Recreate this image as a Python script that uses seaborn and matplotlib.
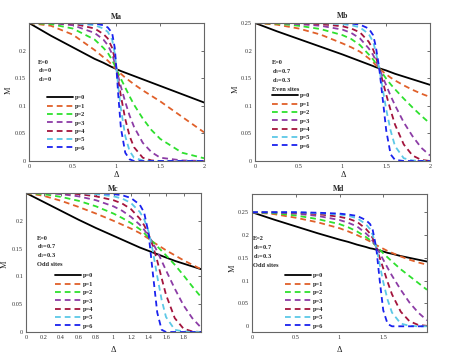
import matplotlib
matplotlib.use("Agg")
import matplotlib.pyplot as plt
import numpy as np
import pandas as pd
import seaborn as sns

# ---- data ----
P_LABELS = ["p=0", "p=1", "p=2", "p=3", "p=4", "p=5", "p=6"]

# panel Ma
ma_x = [0, 0.25, 0.5, 0.75, 0.85, 0.9, 0.95, 0.98, 1.0, 1.02, 1.05, 1.1, 1.15, 1.2, 1.3, 1.4, 1.5, 1.75, 2.0]
ma_p0 = [0.25, 0.227, 0.206, 0.185, 0.178, 0.174, 0.170, 0.168, 0.166, 0.165, 0.163, 0.160, 0.157, 0.154, 0.148, 0.142, 0.136, 0.121, 0.106]
ma_p1 = [0.25, 0.245, 0.229, 0.201, 0.188, 0.182, 0.174, 0.169, 0.166, 0.163, 0.158, 0.151, 0.145, 0.139, 0.128, 0.118, 0.108, 0.080, 0.052]
ma_p2 = [0.25, 0.248, 0.240, 0.220, 0.205, 0.196, 0.183, 0.173, 0.166, 0.159, 0.149, 0.133, 0.117, 0.102, 0.077, 0.056, 0.040, 0.015, 0.005]
ma_p3 = [0.25, 0.25, 0.246, 0.232, 0.220, 0.210, 0.194, 0.178, 0.166, 0.153, 0.135, 0.107, 0.082, 0.062, 0.033, 0.016, 0.006, 0.001, 0.0]
ma_p4 = [0.25, 0.25, 0.249, 0.240, 0.230, 0.222, 0.205, 0.185, 0.166, 0.147, 0.118, 0.076, 0.045, 0.025, 0.006, 0.001, 0.0, 0.0, 0.0]
ma_p5 = [0.25, 0.25, 0.25, 0.246, 0.240, 0.234, 0.220, 0.195, 0.166, 0.135, 0.095, 0.045, 0.018, 0.006, 0.001, 0.0, 0.0, 0.0, 0.0]
ma_p6 = [0.25, 0.25, 0.25, 0.249, 0.246, 0.242, 0.232, 0.205, 0.166, 0.120, 0.060, 0.015, 0.003, 0.0, 0.0, 0.0, 0.0, 0.0, 0.0]

# panel Mb
mb_x = [0, 0.25, 0.5, 0.75, 1.0, 1.1, 1.2, 1.3, 1.35, 1.38, 1.42, 1.46, 1.5, 1.55, 1.6, 1.7, 1.8, 1.9, 2.0]
mb_p0 = [0.25, 0.235, 0.221, 0.207, 0.193, 0.187, 0.181, 0.175, 0.172, 0.170, 0.168, 0.166, 0.164, 0.161, 0.158, 0.153, 0.148, 0.143, 0.138]
mb_p1 = [0.25, 0.247, 0.240, 0.229, 0.213, 0.206, 0.198, 0.186, 0.179, 0.174, 0.168, 0.162, 0.157, 0.151, 0.146, 0.137, 0.129, 0.122, 0.116]
mb_p2 = [0.25, 0.249, 0.245, 0.239, 0.228, 0.221, 0.210, 0.193, 0.184, 0.177, 0.168, 0.158, 0.149, 0.139, 0.130, 0.113, 0.097, 0.082, 0.068]
mb_p3 = [0.25, 0.25, 0.248, 0.245, 0.238, 0.232, 0.222, 0.204, 0.192, 0.182, 0.168, 0.152, 0.137, 0.118, 0.101, 0.070, 0.045, 0.024, 0.010]
mb_p4 = [0.25, 0.25, 0.25, 0.248, 0.244, 0.240, 0.233, 0.216, 0.202, 0.189, 0.168, 0.144, 0.120, 0.092, 0.066, 0.030, 0.010, 0.002, 0.0]
mb_p5 = [0.25, 0.25, 0.25, 0.25, 0.248, 0.246, 0.242, 0.230, 0.216, 0.198, 0.168, 0.130, 0.093, 0.055, 0.027, 0.005, 0.001, 0.0, 0.0]
mb_p6 = [0.25, 0.25, 0.25, 0.25, 0.25, 0.249, 0.247, 0.240, 0.228, 0.208, 0.168, 0.112, 0.055, 0.012, 0.002, 0.0, 0.0, 0.0, 0.0]

# panel Mc
mc_x = [0, 0.2, 0.4, 0.6, 0.8, 1.0, 1.1, 1.2, 1.3, 1.35, 1.4, 1.45, 1.5, 1.55, 1.6, 1.7, 1.8, 1.9, 2.0]
mc_p0 = [0.25, 0.234, 0.218, 0.202, 0.187, 0.173, 0.166, 0.159, 0.152, 0.149, 0.146, 0.143, 0.140, 0.137, 0.134, 0.128, 0.123, 0.118, 0.113]
mc_p1 = [0.25, 0.245, 0.236, 0.225, 0.213, 0.200, 0.193, 0.186, 0.178, 0.173, 0.168, 0.162, 0.157, 0.152, 0.147, 0.138, 0.129, 0.121, 0.113]
mc_p2 = [0.25, 0.248, 0.243, 0.236, 0.226, 0.213, 0.205, 0.196, 0.185, 0.178, 0.170, 0.162, 0.154, 0.146, 0.138, 0.121, 0.102, 0.082, 0.063]
mc_p3 = [0.25, 0.25, 0.248, 0.244, 0.237, 0.226, 0.218, 0.207, 0.193, 0.184, 0.173, 0.160, 0.145, 0.128, 0.111, 0.078, 0.048, 0.025, 0.008]
mc_p4 = [0.25, 0.25, 0.25, 0.248, 0.244, 0.237, 0.231, 0.221, 0.204, 0.192, 0.176, 0.155, 0.128, 0.097, 0.067, 0.025, 0.006, 0.001, 0.0]
mc_p5 = [0.25, 0.25, 0.25, 0.25, 0.248, 0.244, 0.240, 0.232, 0.216, 0.203, 0.181, 0.145, 0.100, 0.058, 0.027, 0.004, 0.001, 0.0, 0.0]
mc_p6 = [0.25, 0.25, 0.25, 0.25, 0.25, 0.248, 0.246, 0.241, 0.229, 0.215, 0.178, 0.105, 0.035, 0.004, 0.0, 0.0, 0.0, 0.0, 0.0]

# panel Md
md_x = [0, 0.25, 0.5, 0.75, 1.0, 1.1, 1.2, 1.3, 1.35, 1.38, 1.42, 1.46, 1.5, 1.55, 1.6, 1.7, 1.8, 1.9, 2.0]
md_p0 = [0.25, 0.234, 0.219, 0.204, 0.190, 0.185, 0.179, 0.174, 0.171, 0.170, 0.168, 0.166, 0.164, 0.161, 0.159, 0.154, 0.150, 0.146, 0.142]
md_p1 = [0.25, 0.246, 0.238, 0.228, 0.215, 0.208, 0.200, 0.191, 0.186, 0.182, 0.178, 0.174, 0.170, 0.165, 0.161, 0.153, 0.146, 0.140, 0.135]
md_p2 = [0.25, 0.248, 0.243, 0.235, 0.224, 0.217, 0.208, 0.196, 0.189, 0.184, 0.176, 0.168, 0.160, 0.151, 0.142, 0.125, 0.110, 0.095, 0.080]
md_p3 = [0.25, 0.25, 0.247, 0.242, 0.233, 0.227, 0.219, 0.204, 0.195, 0.187, 0.174, 0.160, 0.146, 0.128, 0.111, 0.080, 0.052, 0.030, 0.013]
md_p4 = [0.25, 0.25, 0.249, 0.246, 0.240, 0.236, 0.229, 0.214, 0.203, 0.193, 0.173, 0.150, 0.127, 0.097, 0.070, 0.032, 0.011, 0.003, 0.001]
md_p5 = [0.25, 0.25, 0.25, 0.248, 0.245, 0.242, 0.237, 0.224, 0.213, 0.200, 0.173, 0.135, 0.097, 0.058, 0.030, 0.006, 0.001, 0.0, 0.0]
md_p6 = [0.25, 0.25, 0.25, 0.249, 0.247, 0.245, 0.242, 0.233, 0.224, 0.211, 0.172, 0.100, 0.035, 0.005, 0.0, 0.0, 0.0, 0.0, 0.0]

COLORS = ["#000000", "#e0602a", "#2ee02e", "#8c3ca6", "#a3143c", "#5cc8e6", "#1a22ee"]


def long_frame(x, curves):
    rows = []
    for lab, y in zip(P_LABELS, curves):
        rows.append(pd.DataFrame({"delta": x, "M": y, "p": lab}))
    return pd.concat(rows, ignore_index=True)


sns.set_theme(style="white")
plt.rcParams["font.family"] = ["Liberation Serif", "DejaVu Serif"]
plt.rcParams["mathtext.fontset"] = "custom"
plt.rcParams["mathtext.rm"] = "Liberation Serif"
plt.rcParams["mathtext.it"] = "Liberation Serif"
plt.rcParams["mathtext.bf"] = "Liberation Serif:bold"

W, H = 451, 357
fig = plt.figure(figsize=(W / 100, H / 100), dpi=100)


def px_axes(left, top, right, bottom):
    return fig.add_axes([left / W, 1 - bottom / H, (right - left) / W, (bottom - top) / H])


panels = [
    dict(name="Ma", box=(29, 23, 204, 161), x=ma_x, curves=[ma_p0, ma_p1, ma_p2, ma_p3, ma_p4, ma_p5, ma_p6],
         ylim=(0, 0.25), yticks=[0, 0.05, 0.1, 0.15, 0.2], ylabels=["0", "0.05", "0.1", "0.15", "0.2"],
         xticks=[0, 0.5, 1, 1.5, 2], xlabels=["0", "0.5", "1", "1.5", "2"],
         notes=["E=0", "d$_0$=0", "d$_1$=0"], note_xy=(38, 62), leg_xy=(47, 95), leg_dy=8,
         title_xy=(116, 17), mlab=(9, 90), dlab=(116, 175)),
    dict(name="Mb", box=(255, 23, 430, 161), x=mb_x, curves=[mb_p0, mb_p1, mb_p2, mb_p3, mb_p4, mb_p5, mb_p6],
         ylim=(0, 0.25), yticks=[0, 0.05, 0.1, 0.15, 0.2, 0.25], ylabels=["0", "0.05", "0.1", "0.15", "0.2", "0.25"],
         xticks=[0, 0.5, 1, 1.5, 2], xlabels=["0", "0.5", "1", "1.5", "2"],
         notes=["E=0", "d$_0$=0.7", "d$_1$=0.3", "Even sites"], note_xy=(272, 63), leg_xy=(272, 93), leg_dy=9.3,
         title_xy=(343, 16), mlab=(236, 89), dlab=(343, 175)),
    dict(name="Mc", box=(26, 193, 201, 332), x=mc_x, curves=[mc_p0, mc_p1, mc_p2, mc_p3, mc_p4, mc_p5, mc_p6],
         ylim=(0, 0.25), yticks=[0, 0.05, 0.1, 0.15, 0.2], ylabels=["0", "0.05", "0.1", "0.15", "0.2"],
         xticks=[0, 0.2, 0.4, 0.6, 0.8, 1, 1.2, 1.4, 1.6, 1.8],
         xlabels=["0", "0.2", "0.4", "0.6", "0.8", "1", "1.2", "1.4", "1.6", "1.8"],
         notes=["E=0", "d$_0$=0.7", "d$_1$=0.3", "Odd sites"], note_xy=(37, 238), leg_xy=(55, 273), leg_dy=8,
         title_xy=(113, 189), mlab=(5, 264), dlab=(113, 350)),
    dict(name="Md", box=(252, 194, 427, 332), x=md_x, curves=[md_p0, md_p1, md_p2, md_p3, md_p4, md_p5, md_p6],
         ylim=(-0.0125, 0.29), yticks=[0, 0.05, 0.1, 0.15, 0.2, 0.25], ylabels=["0", "0.05", "0.1", "0.15", "0.2", "0.25"],
         xticks=[0, 0.5, 1, 1.5], xlabels=["0", "0.5", "1", "1.5"],
         notes=["E=2", "d$_0$=0.7", "d$_1$=0.3", "Odd sites"], note_xy=(253, 239), leg_xy=(285, 273), leg_dy=8,
         title_xy=(339, 189), mlab=(233, 268), dlab=(339, 350)),
]

dash_map = {lab: ((3.2, 2.2) if i else "") for i, lab in enumerate(P_LABELS)}

for pn in panels:
    ax = px_axes(*pn["box"])
    df = long_frame(pn["x"], pn["curves"])
    sns.lineplot(data=df, x="delta", y="M", hue="p", style="p", palette=COLORS,
                 dashes=dash_map, errorbar=None, sort=True, legend=False, ax=ax, lw=1.3)
    ax.set_xlim(0, 2)
    ax.set_ylim(*pn["ylim"])
    ax.set_xticks(pn["xticks"])
    ax.set_xticklabels(pn["xlabels"])
    ax.set_yticks(pn["yticks"])
    ax.set_yticklabels(pn["ylabels"])
    ax.set_xlabel("")
    ax.set_ylabel("")
    ax.tick_params(direction="in", length=2, width=0.5, labelsize=4.5, pad=2,
                   top=True, right=True, colors="#333333")
    for sp in ax.spines.values():
        sp.set_color("#666666")
        sp.set_linewidth(0.8)

    fig.text(pn["title_xy"][0] / W, 1 - pn["title_xy"][1] / H, pn["name"],
             ha="center", va="center", fontsize=5.5, fontweight="bold")
    fig.text(pn["mlab"][0] / W, 1 - pn["mlab"][1] / H, "M", rotation=90,
             ha="center", va="center", fontsize=6)
    fig.text(pn["dlab"][0] / W, 1 - pn["dlab"][1] / H, "Δ",
             ha="center", va="center", fontsize=6)

    nx, ny = pn["note_xy"]
    for k, note in enumerate(pn["notes"]):
        fig.text(nx / W, 1 - (ny + k * 8.7) / H, note, ha="left", va="center",
                 fontsize=4.6, fontweight="bold")

    handles = ax.get_lines()[:7]
    lx, ly = pn["leg_xy"]
    ax.legend(handles, P_LABELS, loc="upper left", bbox_to_anchor=(lx / W, 1 - ly / H),
              bbox_transform=fig.transFigure, frameon=False, fontsize=4.6,
              handlelength=4.0, handletextpad=0.3, labelspacing=0.45,
              borderpad=0, borderaxespad=0, prop={"weight": "bold", "size": 4.6})

fig.savefig("out.png", dpi=100)
